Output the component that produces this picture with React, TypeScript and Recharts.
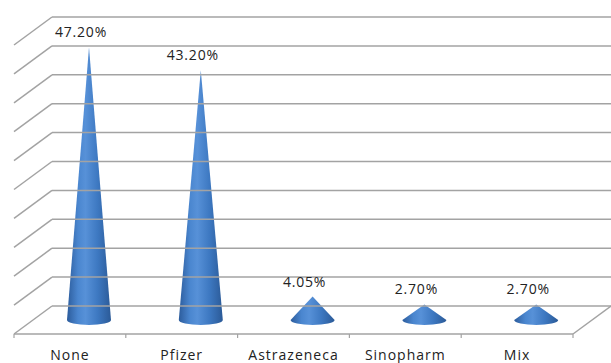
import React from 'react';
import { BarChart, Bar, XAxis, YAxis, ReferenceLine, LabelList } from 'recharts';

const categories = ['None', 'Pfizer', 'Astrazeneca', 'Sinopharm', 'Mix'];
const percentages = [47.2, 43.2, 4.05, 2.7, 2.7];
const gridValues = [0, 5, 10, 15, 20, 25, 30, 35, 40, 45, 50];

const data = categories.map((name, i) => ({ name, value: percentages[i] }));

const DX = 19;
const DY = 14;
const GRID = '#a3a3a3';
const FONT = '"Open Sans", sans-serif';

const Cone = (props: any) => {
  const { x, y, width, height, index } = props;
  const cx = x + width / 2;
  const rx = width / 2;
  const ry = 5;
  const base = y + height;
  const id = `coneGrad${index}`;
  return (
    <g>
      <defs>
        <linearGradient id={id} x1="0" y1="0" x2="1" y2="0">
          <stop offset="0%" stopColor="#2c5c9c" />
          <stop offset="25%" stopColor="#4a86cf" />
          <stop offset="42%" stopColor="#5791d8" />
          <stop offset="70%" stopColor="#3d78c1" />
          <stop offset="100%" stopColor="#2b5a97" />
        </linearGradient>
      </defs>
      <path
        d={`M${cx - rx},${base} L${cx},${y} L${cx + rx},${base} A${rx},${ry} 0 0 1 ${cx - rx},${base} Z`}
        fill={`url(#${id})`}
      />
    </g>
  );
};

const makeGridShape = (v: number) => (props: any) => {
  const { x1, x2, y1 } = props;
  const y = y1;
  const n = categories.length;
  const band = (x2 - x1) / n;
  return (
    <g>
      <line x1={x1 + DX} y1={y - DY} x2={x2 + DX} y2={y - DY} stroke={GRID} strokeWidth={1.5} />
      <line x1={x1 - DX} y1={y + DY} x2={x1 + DX} y2={y - DY} stroke={GRID} strokeWidth={1.5} />
      {v === 0 && (
        <g>
          <line x1={x1 - DX} y1={y + DY} x2={x2 - DX} y2={y + DY} stroke={GRID} strokeWidth={1.5} />
          <line x1={x2 - DX} y1={y + DY} x2={x2 + DX} y2={y - DY} stroke={GRID} strokeWidth={1.5} />
          {Array.from({ length: n + 1 }).map((_, i) => (
            <line
              key={i}
              x1={x1 - DX + band * i}
              y1={y + DY}
              x2={x1 - DX + band * i}
              y2={y + DY + 4}
              stroke={GRID}
              strokeWidth={1.2}
            />
          ))}
        </g>
      )}
    </g>
  );
};

const CategoryTick = (props: any) => {
  const { x, y, payload } = props;
  return (
    <text
      x={x - DX}
      y={y + 32}
      textAnchor="middle"
      fontFamily={FONT}
      fontSize={14}
      letterSpacing={1}
      fill="#222"
    >
      {payload.value}
    </text>
  );
};

const ValueLabel = (props: any) => {
  const { x, y, width, value } = props;
  return (
    <text
      x={x + width / 2 - 8}
      y={y - 10}
      textAnchor="middle"
      fontFamily={FONT}
      fontSize={14}
      letterSpacing={0.8}
      fill="#222"
    >
      {`${Number(value).toFixed(2)}%`}
    </text>
  );
};

export default function App() {
  return (
    <div style={{ position: 'absolute', left: 0, top: 0, background: '#fff' }}>
      <BarChart
        width={611}
        height={363}
        data={data}
        margin={{ top: 31, right: 19, bottom: 0, left: 33 }}
        barSize={44}
      >
        <XAxis
          dataKey="name"
          axisLine={false}
          tickLine={false}
          height={43}
          interval={0}
          tick={<CategoryTick />}
        />
        <YAxis hide domain={[0, 50]} ticks={gridValues} />
        {gridValues.map((v) => (
          <ReferenceLine key={v} y={v} shape={makeGridShape(v)} ifOverflow="visible" />
        ))}
        <Bar dataKey="value" shape={<Cone />} isAnimationActive={false}>
          <LabelList dataKey="value" content={<ValueLabel />} />
        </Bar>
      </BarChart>
    </div>
  );
}
